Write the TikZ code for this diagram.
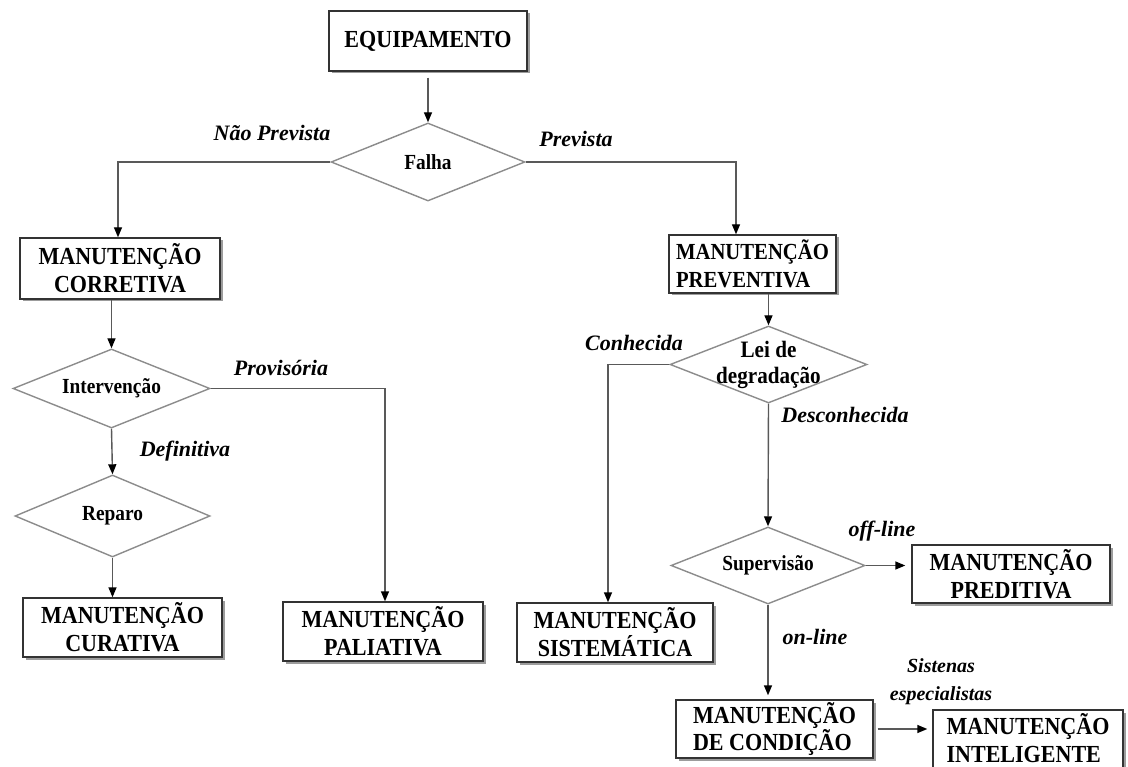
\documentclass[tikz,border=0pt]{standalone}
\usepackage{fontspec}
\setmainfont{Liberation Serif}
% a slightly condensed cut of the same serif for the box and decision texts
\newfontfamily\condserif[FakeStretch=0.9]{Liberation Serif}
\usetikzlibrary{shapes.geometric,arrows.meta,shadows}

\tikzset{
  box/.style={draw=black!80, line width=1.4pt, fill=white, inner sep=0pt,
    font=\condserif\bfseries\fontsize{24.5}{28}\selectfont,
    drop shadow={shadow xshift=2.5pt, shadow yshift=-2.5pt, fill=black!55, opacity=0.7}},
  dia/.style={draw=black!45, line width=1.4pt, shape=diamond, inner sep=0pt, fill=white},
  dtext/.style={font=\condserif\bfseries\fontsize{21.5}{26}\selectfont, align=center, inner sep=0pt},
  lbl/.style={font=\bfseries\itshape\fontsize{22}{26}\selectfont, inner sep=0pt, align=center},
  conn/.style={draw=black!65, line width=1.4pt},
  arr/.style={conn, -{Triangle[length=10pt,width=8pt,color=black]}},
}

\begin{document}
\begin{tikzpicture}[x=1pt,y=-1pt]
\useasboundingbox (0,0) rectangle (1128,767);
\fill[white] (0,0) rectangle (1128,767);
\clip (0,0) rectangle (1128,767);

% rectangular boxes
\node[box, minimum width=198, minimum height=60, align=center] (equip) at (428,41) {EQUIPAMENTO};
\node[box, minimum width=200, minimum height=61, align=center] (corretiva) at (120,268.5) {MANUTENÇÃO\\CORRETIVA};
\node[box, minimum width=167, minimum height=58, align=left, font=\condserif\bfseries\fontsize{23}{28}\selectfont] (preventiva) at (752.5,264) {MANUTENÇÃO\\PREVENTIVA};
\node[box, minimum width=199, minimum height=59, align=center] (curativa) at (122.5,627.5) {MANUTENÇÃO\\CURATIVA};
\node[box, minimum width=200, minimum height=59, align=center] (paliativa) at (383,631.5) {MANUTENÇÃO\\PALIATIVA};
\node[box, minimum width=196, minimum height=59, align=center] (sistematica) at (615,632.5) {MANUTENÇÃO\\SISTEMÁTICA};
\node[box, minimum width=198, minimum height=58, align=center] (preditiva) at (1011,574) {MANUTENÇÃO\\PREDITIVA};
\node[box, minimum width=197, minimum height=58, align=left] (condicao) at (774.5,729) {MANUTENÇÃO\\DE CONDIÇÃO};
\node[box, minimum width=190, minimum height=75, text depth=20pt, align=left] (inteligente) at (1028,747.5) {MANUTENÇÃO\\INTELIGENTE};

% decision diamonds
\node[dia, minimum width=194, minimum height=78] (falha) at (428,162) {};
\node[dtext] (tfalha) at (falha.center) {Falha};
\node[dia, minimum width=197, minimum height=79] (interv) at (111.5,388.5) {};
\node[dtext] (tinterv) at (interv.center) {Intervenção};
\node[dia, minimum width=195, minimum height=82] (reparo) at (112.5,516) {};
\node[dtext] (treparo) at (reparo.center) {Reparo};
\node[dia, minimum width=197, minimum height=77] (lei) at (768.5,364.5) {};
\node[dtext, font=\condserif\bfseries\fontsize{23.5}{26}\selectfont] (tlei) at (lei.center) {Lei de\\degradação};
\node[dia, minimum width=194, minimum height=77] (superv) at (768,565.5) {};
\node[dtext] (tsuperv) at (superv.center) {Supervisão};

% connectors
\draw[arr, shorten <=6pt] (equip.south) -- (falha.north);
\draw[arr] (falha.west) -| ([xshift=-2pt]corretiva.north);
\draw[arr] (falha.east) -| ([xshift=-16.5pt]preventiva.north);
\draw[arr] (interv.north |- corretiva.south) -- (interv.north);
\draw[arr] (interv.east) -| ([xshift=2pt]paliativa.north);
\draw[arr] (interv.south) -- (reparo.north);
\draw[arr] (reparo.south) -- (reparo.south |- curativa.north);
\draw[arr] (lei.north |- preventiva.south) -- (lei.north);
\draw[arr] (lei.west) -| ([xshift=-7pt]sistematica.north);
\draw[arr] (lei.south) -- (superv.north);
\draw[arr, shorten >=6pt] (superv.east) -- (superv.east -| preditiva.west);
\draw[arr, shorten >=4pt] (superv.south) -- (superv.south |- condicao.north);
\draw[arr, shorten <=4pt, shorten >=5pt] (condicao.east) -- (condicao.east -| inteligente.west);

% branch labels
\node[lbl] (lnprev) at (272,133) {Não Prevista};
\node[lbl] (lprev) at (576,139) {Prevista};
\node[lbl] (lprov) at (281,368) {Provisória};
\node[lbl] (ldef) at (185,451) {Definitiva};
\node[lbl] (lconh) at (634,343) {Conhecida};
\node[lbl] (ldesc) at (845,415) {Desconhecida};
\node[lbl] (loff) at (882,531) {off-line};
\node[lbl] (lon) at (815,637) {on-line};
\node[lbl, font=\bfseries\itshape\fontsize{20}{28}\selectfont] (lsist) at (941,682) {Sistenas\\especialistas};
\end{tikzpicture}
\end{document}
